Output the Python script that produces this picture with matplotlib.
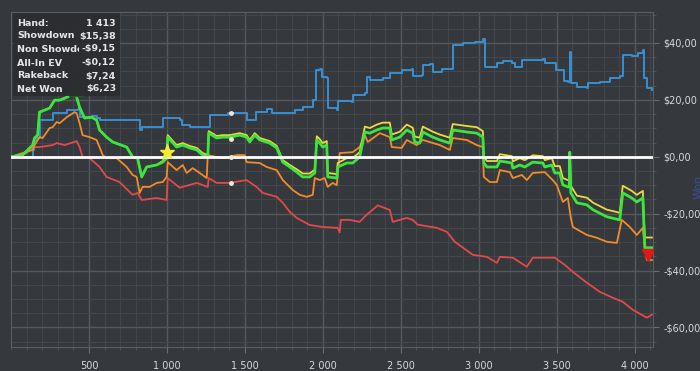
import matplotlib
matplotlib.use("Agg")
import matplotlib.pyplot as plt
from matplotlib.ticker import MultipleLocator, FuncFormatter
from matplotlib.patches import Rectangle
from matplotlib.transforms import Bbox

# (hand, $) points
showdown = [(0, 0), (130, 0), (139, 2.4), (150, 5.5), (165, 6.5), (183, 12.9), (267, 15.3), (357, 16.4),
            (427, 16.7), (440, 13.9), (517, 14.3), (549, 13.6), (568, 12.9), (812, 12.9), (825, 9.4),
            (838, 10.4), (934, 10.4), (973, 13.6), (1017, 13.6), (1082, 12.9), (1095, 11.1), (1146, 10.4),
            (1262, 10.4), (1274, 14.6), (1389, 15.3), (1511, 15.3), (1511, 12.9), (1563, 12.9), (1569, 15.7),
            (1640, 16.7), (1672, 15.3), (1807, 15.3), (1820, 16.4), (1871, 17.4), (1935, 19.9), (1955, 30.4),
            (1980, 30.8), (1993, 28.0), (2025, 27.6), (2031, 17.1), (2089, 16.4), (2095, 19.5), (2172, 19.5),
            (2185, 19.2), (2191, 21.7), (2269, 22.4), (2281, 28.0), (2301, 26.9), (2384, 27.6), (2429, 29.4),
            (2493, 29.4), (2506, 30.4), (2570, 30.8), (2576, 28.3), (2634, 28.7), (2641, 32.2), (2686, 32.5),
            (2705, 29.7), (2750, 29.7), (2763, 30.8), (2814, 30.8), (2833, 39.2), (2898, 39.9), (2975, 40.2),
            (3026, 41.3), (3039, 31.5), (3116, 32.9), (3154, 33.6), (3212, 32.9), (3231, 31.5), (3276, 33.9),
            (3411, 34.3), (3423, 32.9), (3487, 32.9), (3494, 30.4), (3539, 30.4), (3545, 26.6), (3571, 26.2),
            (3583, 36.7), (3590, 25.9), (3629, 24.5), (3693, 24.1), (3699, 25.9), (3776, 26.2), (3840, 27.6),
            (3904, 28.3), (3923, 35.7), (3981, 35.3), (4020, 36.4), (4052, 37.4), (4058, 27.6), (4078, 24.1),
            (4110, 23.4)]

non_showdown = [(0, 0), (55, 0.2), (100, 1.3), (139, 3.4), (183, 3.4), (267, 4.1), (293, 4.8), (344, 4.1),
                (421, 5.5), (440, 3.4), (459, -0.1), (504, -0.5), (568, -3.6), (613, -7.1), (696, -8.9),
                (780, -13.4), (812, -12.7), (838, -15.2), (934, -14.5), (998, -15.2), (1005, -7.5),
                (1082, -10.9), (1146, -9.9), (1191, -9.2), (1262, -10.6), (1268, -7.5), (1319, -9.2),
                (1402, -9.2), (1511, -8.2), (1575, -10.6), (1614, -12.7), (1704, -14.1), (1743, -16.2),
                (1788, -19.4), (1832, -21.5), (1916, -24.0), (1999, -24.7), (2095, -25.0), (2108, -26.6),
                (2115, -22.2), (2172, -22.2), (2236, -22.9), (2281, -20.4), (2352, -17.1), (2429, -18.7),
                (2448, -22.9), (2538, -21.5), (2576, -22.2), (2609, -23.9), (2730, -25.0), (2795, -26.4),
                (2846, -29.9), (2962, -34.5), (3052, -35.2), (3116, -37.3), (3135, -35.2), (3218, -35.5),
                (3308, -38.7), (3346, -35.5), (3487, -35.5), (3551, -38.0), (3603, -40.5), (3693, -44.3),
                (3776, -47.5), (3860, -49.6), (3923, -51.0), (3987, -53.8), (4078, -56.6), (4110, -55.5)]

net_won = [(0, 0), (74, 0.6), (139, 4.1), (151, 6.6), (171, 7.6), (183, 15.7), (248, 17.1), (280, 19.9),
           (312, 19.9), (357, 20.9), (408, 22.4), (421, 20.9), (440, 17.4), (472, 13.6), (517, 13.9),
           (549, 12.9), (568, 9.4), (613, 6.9), (652, 5.2), (742, 3.4), (780, -0.1), (812, -0.5), (838, -7.1),
           (870, -3.6), (934, -2.9), (973, -1.9), (998, -0.5), (1005, 6.9), (1062, 3.4), (1101, 4.1),
           (1146, 3.1), (1191, 2.4), (1229, 0.6), (1262, -0.1), (1268, 8.3), (1319, 6.6), (1358, 6.9),
           (1402, 6.9), (1467, 7.6), (1511, 6.9), (1531, 5.2), (1563, 7.6), (1595, 5.9), (1659, 4.8),
           (1704, 3.1), (1743, -1.9), (1788, -3.6), (1832, -5.4), (1871, -7.1), (1916, -7.1), (1948, -5.7),
           (1961, 5.9), (1980, 4.8), (1999, 3.4), (2025, 4.1), (2031, -7.1), (2089, -7.5), (2095, -3.6),
           (2153, -2.2), (2191, -2.2), (2236, -0.1), (2269, 8.7), (2301, 8.3), (2346, 9.4), (2384, 10.1),
           (2429, 10.1), (2442, 5.9), (2493, 6.9), (2538, 9.4), (2576, 8.3), (2589, 5.2), (2621, 4.8),
           (2641, 8.7), (2705, 6.9), (2750, 5.9), (2814, 4.8), (2833, 9.4), (2923, 8.7), (2987, 8.3),
           (3026, 6.9), (3032, -2.2), (3052, -3.6), (3116, -3.6), (3135, -1.5), (3212, -2.2), (3218, -4.0),
           (3263, -2.9), (3295, -3.6), (3346, -1.9), (3411, -2.2), (3423, -3.6), (3468, -2.9), (3487, -5.7),
           (3519, -5.7), (3539, -9.9), (3571, -10.6), (3580, -10.6), (3583, 1.6), (3590, -12.7), (3629, -16.2),
           (3693, -16.9), (3734, -18.7), (3821, -21.1), (3904, -22.2), (3923, -12.7), (3981, -14.5),
           (4013, -15.9), (4052, -14.5), (4058, -23.3), (4065, -32.0), (4110, -32.0)]

allin_ev = [(0, 0), (74, 0.6), (139, 4.1), (151, 6.6), (171, 7.6), (183, 15.7), (248, 17.1), (280, 19.9),
            (312, 19.9), (357, 20.9), (408, 22.4), (421, 20.9), (440, 17.4), (472, 13.6), (517, 13.9),
            (549, 12.9), (568, 9.4), (613, 6.9), (652, 5.2), (742, 3.4), (780, -0.1), (812, -0.5), (838, -7.1),
            (870, -3.6), (934, -2.9), (973, -1.5), (998, 1.6), (1005, 7.6), (1062, 4.1), (1101, 4.8),
            (1146, 3.8), (1191, 3.1), (1229, 1.3), (1262, 0.6), (1268, 9.0), (1319, 7.3), (1358, 7.6),
            (1402, 7.6), (1467, 8.3), (1511, 7.6), (1531, 5.9), (1563, 8.3), (1595, 6.6), (1659, 5.5),
            (1704, 3.8), (1743, -1.2), (1788, -2.9), (1832, -4.4), (1871, -5.9), (1916, -5.9), (1948, -4.5),
            (1961, 7.2), (1980, 6.2), (1999, 4.8), (2025, 5.5), (2031, -5.7), (2089, -6.1), (2095, -2.2),
            (2153, -0.5), (2191, -0.5), (2236, 1.6), (2269, 10.6), (2301, 10.1), (2346, 11.3), (2384, 12.0),
            (2429, 12.0), (2442, 7.8), (2493, 8.8), (2538, 11.3), (2576, 10.2), (2589, 7.1), (2621, 6.7),
            (2641, 10.6), (2705, 8.8), (2750, 7.8), (2814, 6.7), (2833, 11.5), (2923, 10.8), (2987, 10.4),
            (3026, 9.0), (3032, -0.1), (3052, -1.5), (3116, -1.5), (3135, 0.9), (3212, 0.2), (3218, -1.6),
            (3263, -0.5), (3295, -1.2), (3346, 0.5), (3411, 0.2), (3423, -1.2), (3468, -0.5), (3487, -3.3),
            (3519, -3.3), (3539, -7.5), (3571, -8.2), (3580, -8.2), (3583, 1.6), (3590, -10.2), (3629, -13.7),
            (3693, -14.4), (3734, -16.2), (3821, -18.6), (3904, -19.7), (3923, -10.2), (3981, -12.0),
            (4013, -13.4), (4052, -12.0), (4058, -20.8), (4065, -28.4), (4110, -28.4)]

no_rakeback = [(0, 0), (139, 2.4), (151, 4.1), (183, 6.9), (203, 6.6), (248, 10.1), (267, 10.4), (293, 12.2),
               (312, 11.8), (357, 13.9), (408, 15.7), (421, 15.3), (440, 11.8), (459, 7.6), (504, 6.9),
               (549, 5.9), (568, 3.4), (588, 0.6), (613, -0.5), (678, -0.5), (742, -3.6), (780, -6.4),
               (806, -7.1), (825, -12.7), (844, -10.6), (889, -10.6), (934, -9.2), (973, -8.9), (998, -7.1),
               (1005, -1.9), (1062, -4.7), (1101, -2.9), (1127, -5.7), (1165, -4.0), (1210, -5.7), (1255, -7.5),
               (1262, 0.6), (1319, -0.1), (1358, -0.5), (1402, -0.1), (1447, 0.6), (1498, 0.6), (1511, -1.9),
               (1595, -2.2), (1640, -3.6), (1704, -4.7), (1743, -8.2), (1807, -11.7), (1852, -13.4),
               (1897, -14.1), (1935, -13.4), (1948, -7.5), (1980, -8.2), (2012, -7.5), (2031, -10.6),
               (2063, -9.2), (2089, -10.0), (2108, 1.3), (2191, 1.6), (2236, 3.4), (2269, 7.6), (2288, 5.2),
               (2365, 8.3), (2429, 6.9), (2442, 3.4), (2506, 3.1), (2538, 5.9), (2602, 4.1), (2641, 5.9),
               (2750, 4.1), (2814, 2.4), (2833, 6.6), (2923, 5.9), (2987, 4.1), (3026, 3.4), (3032, -7.1),
               (3071, -8.9), (3116, -8.9), (3135, -4.7), (3199, -5.4), (3218, -7.5), (3276, -6.4), (3308, -8.2),
               (3346, -5.7), (3423, -5.4), (3474, -8.2), (3500, -9.9), (3539, -15.9), (3571, -14.5),
               (3590, -21.5), (3603, -24.7), (3693, -27.5), (3757, -28.5), (3821, -29.9), (3885, -30.3),
               (3917, -22.2), (3968, -24.7), (4013, -27.5), (4052, -25.0), (4065, -32.7), (4078, -36.3),
               (4110, -36.3)]

hover_hand = 1413
hover_values = [15.38, 6.23, -0.12, -9.15]
info_labels = ["Hand:", "Showdown", "Non Showdown", "All-In EV", "Rakeback", "Net Won"]
info_values = ["1 413", "$15,38", "-$9,15", "-$0,12", "$7,24", "$6,23"]

x_ticks = [500, 1000, 1500, 2000, 2500, 3000, 3500, 4000]
y_ticks = [-60, -40, -20, 0, 20, 40]

BG = "#35383c"
TXT = "#d6d9dc"

fig = plt.figure(figsize=(7, 3.71), dpi=100, facecolor=BG)
ax = fig.add_axes([11 / 700, 24 / 371, 642 / 700, 335 / 371], facecolor=BG)

ax.set_xlim(0, 4117)
ax.set_ylim(-66.9, 50.9)

ax.xaxis.set_major_locator(MultipleLocator(500))
ax.xaxis.set_minor_locator(MultipleLocator(100))
ax.yaxis.set_major_locator(MultipleLocator(20))
ax.yaxis.set_minor_locator(MultipleLocator(5))
ax.set_xticks(x_ticks)
ax.set_yticks(y_ticks)
ax.xaxis.set_major_formatter(FuncFormatter(lambda v, p: f"{int(v):,}".replace(",", " ")))
ax.yaxis.set_major_formatter(FuncFormatter(
    lambda v, p: ("-" if v < 0 else "") + "$" + f"{abs(v):.2f}".replace(".", ",")))
ax.yaxis.tick_right()

ax.grid(which="major", color="#55585d", lw=1.0)
ax.grid(which="minor", color="#43464a", lw=0.8)
ax.set_axisbelow(True)
for s in ax.spines.values():
    s.set_color("#5a5d61")
ax.tick_params(which="major", colors="#6a6d71", labelcolor=TXT, labelsize=7, length=4)
ax.tick_params(which="minor", colors="#55585c", length=2.5)
ax.tick_params(axis="x", pad=6)

def xy(pts):
    return [p[0] for p in pts], [p[1] for p in pts]

ax.plot(*xy(non_showdown), color="#e04a4a", lw=1.3, zorder=3)
ax.plot(*xy(showdown), color="#3a8fd0", lw=1.4, drawstyle="steps-post", zorder=3)
ax.plot(*xy(no_rakeback), color="#f08c2c", lw=1.3, zorder=4)
ax.plot(*xy(allin_ev), color="#e8dc3c", lw=1.3, zorder=5)
ax.plot(*xy(net_won), color="#3ee43e", lw=2.0, zorder=6)

ax.axhline(0, color="white", lw=2, zorder=7)

ax.plot([hover_hand] * 4, hover_values, "o", ms=2.5, color="#f2e6d8", zorder=8)
ax.plot(415, 23.8, "^", ms=10, color="#1e5e1e", zorder=9)
ax.plot(998, 1.6, "*", ms=11, color="#f5ea30", zorder=9)
ax.plot(4084, -34.4, "v", ms=9, color="#e01818", zorder=9)

# info box
fig.patches.append(Rectangle((13 / 700, 1 - 96 / 371), 107 / 700, 83 / 371,
                             transform=fig.transFigure, facecolor="#2a2c2f", alpha=0.9,
                             edgecolor="none", zorder=10))
rows_y = [23, 36, 49, 63, 76, 89]
for lab, val, yy in zip(info_labels, info_values, rows_y):
    t = fig.text(17 / 700, 1 - yy / 371, lab, color="#e6e6e6", fontsize=6.8, fontweight="bold",
                 va="center", ha="left", zorder=11)
    if lab == "Non Showdown":
        t.set_clip_box(Bbox.from_extents(0, 0, 79, 371))
        t.set_clip_on(True)
    fig.text(116 / 700, 1 - yy / 371, val, color="#e6e6e6", fontsize=6.8, fontweight="bold",
             va="center", ha="right", zorder=11)

fig.text(694 / 700, 1 - 187 / 371, "Won", rotation=90, color="#3c4f9a", fontsize=8,
         va="center", ha="left")

fig.savefig("out.png", dpi=100, facecolor=BG)
